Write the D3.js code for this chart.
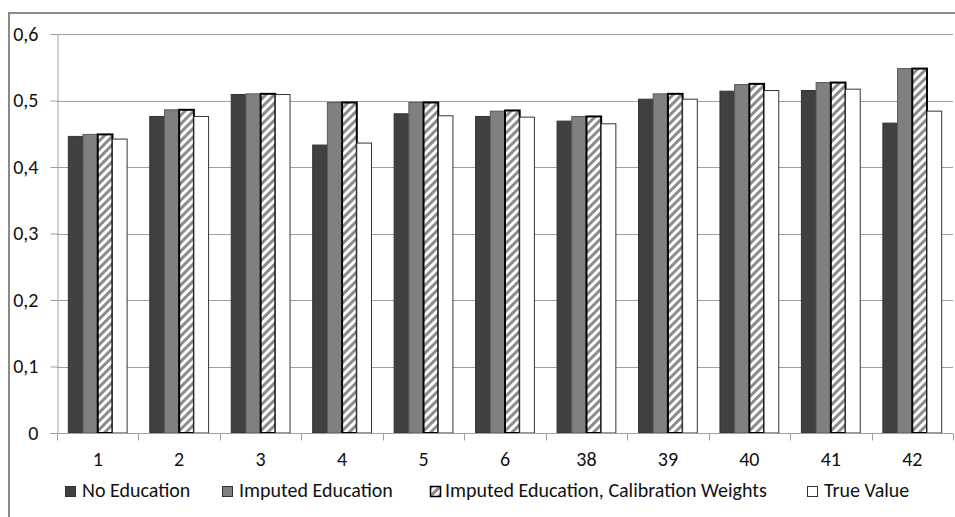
<!DOCTYPE html>
<html>
<head>
<meta charset="utf-8">
<script src="https://cdn.jsdelivr.net/npm/d3@7/dist/d3.min.js"></script>
<style>
  html, body { margin: 0; padding: 0; background: #fff; }
  svg { display: block; font-family: Carlito, Lato, "Open Sans", sans-serif; }
</style>
</head>
<body>
<svg id="chart" width="955" height="517"></svg>
<script>
// Group labels along the x axis
const categories = ["1", "2", "3", "4", "5", "6", "38", "39", "40", "41", "42"];

// Series values, one per group
const noEducation       = [0.446, 0.476, 0.509, 0.433, 0.480, 0.476, 0.469, 0.502, 0.514, 0.515, 0.466];
const imputedEducation  = [0.449, 0.486, 0.510, 0.497, 0.497, 0.484, 0.476, 0.510, 0.524, 0.527, 0.548];
const imputedCalibrated = [0.449, 0.486, 0.510, 0.497, 0.497, 0.485, 0.476, 0.510, 0.525, 0.527, 0.548];
const trueValue         = [0.442, 0.476, 0.509, 0.436, 0.477, 0.475, 0.465, 0.502, 0.515, 0.517, 0.484];

const seriesNames = ["No Education", "Imputed Education", "Imputed Education, Calibration Weights", "True Value"];
const seriesValues = [noEducation, imputedEducation, imputedCalibrated, trueValue];

// Y axis tick values
const yTicks = [0, 0.1, 0.2, 0.3, 0.4, 0.5, 0.6];

const svg = d3.select("#chart");
const fontSize = 20;
const textColor = "#111111";

// Series styling
const styles = [
  { fill: "#404040", stroke: "#333333", sw: 1 },
  { fill: "#808080", stroke: "#5a5a5a", sw: 1 },
  { fill: "url(#hatch)", stroke: "#000000", sw: 2 },
  { fill: "#ffffff", stroke: "#333333", sw: 1 }
];

// Diagonal hatch pattern for the calibrated series
const defs = svg.append("defs");
const pat = defs.append("pattern")
  .attr("id", "hatch")
  .attr("patternUnits", "userSpaceOnUse")
  .attr("width", 6).attr("height", 6)
  .attr("patternTransform", "rotate(45)");
pat.append("rect").attr("width", 6).attr("height", 6).attr("fill", "#ffffff");
pat.append("rect").attr("x", 0).attr("width", 3).attr("height", 6).attr("fill", "#8c8c8c");

// Outer chart frame
svg.append("rect")
  .attr("x", 9).attr("y", 13)
  .attr("width", 970).attr("height", 530)
  .attr("fill", "none")
  .attr("stroke", "#8a8a8a")
  .attr("stroke-width", 2);

const plot = { left: 57, right: 953, top: 34, bottom: 433 };

const x = d3.scaleBand()
  .domain(categories)
  .range([plot.left, plot.right])
  .paddingInner(0.278)
  .paddingOuter(0.139);

const xInner = d3.scaleBand()
  .domain(d3.range(seriesNames.length))
  .range([0, x.bandwidth()])
  .padding(0);

const y = d3.scaleLinear()
  .domain([0, 0.6])
  .range([plot.bottom, plot.top]);

const locale = d3.formatLocale({ decimal: ",", thousands: ".", grouping: [3], currency: ["", ""] });
const fmt = v => v === 0 ? "0" : locale.format(".1f")(v);

const gridColor = "#a0a0a0";

// Horizontal gridlines
svg.append("g")
  .selectAll("line")
  .data(yTicks.filter(t => t > 0))
  .join("line")
  .attr("x1", plot.left).attr("x2", plot.right)
  .attr("y1", d => Math.round(y(d)) + 0.5).attr("y2", d => Math.round(y(d)) + 0.5)
  .attr("stroke", gridColor)
  .attr("stroke-width", 1);

// Y axis
const yAxis = svg.append("g")
  .attr("transform", `translate(${plot.left + 0.5},0)`)
  .call(d3.axisLeft(y).tickValues(yTicks).tickFormat(fmt).tickSize(7).tickPadding(12));
yAxis.select(".domain").attr("stroke", gridColor);
yAxis.selectAll(".tick line").attr("stroke", gridColor);
yAxis.selectAll(".tick text")
  .attr("font-size", fontSize)
  .attr("fill", textColor)
  .attr("font-family", "Carlito, Lato, 'Open Sans', sans-serif");

// Bars
const groups = svg.append("g")
  .selectAll("g")
  .data(categories)
  .join("g")
  .attr("transform", d => `translate(${x(d)},0)`);

groups.selectAll("rect")
  .data((d, i) => seriesValues.map((vals, s) => ({ s, v: vals[i] })))
  .join("rect")
  .attr("x", d => xInner(d.s))
  .attr("width", xInner.bandwidth())
  .attr("y", d => y(d.v))
  .attr("height", d => y(0) - y(d.v))
  .attr("fill", d => styles[d.s].fill)
  .attr("stroke", d => styles[d.s].stroke)
  .attr("stroke-width", d => styles[d.s].sw);

// X axis with ticks between groups
const xAxisG = svg.append("g").attr("transform", `translate(0,${plot.bottom + 0.5})`);
xAxisG.append("line")
  .attr("x1", plot.left).attr("x2", plot.right)
  .attr("stroke", gridColor);
const step = x.step();
const boundaries = d3.range(categories.length + 1).map(i => plot.left + i * step);
xAxisG.selectAll("line.tk")
  .data(boundaries)
  .join("line")
  .attr("class", "tk")
  .attr("x1", d => Math.round(d) + 0.5).attr("x2", d => Math.round(d) + 0.5)
  .attr("y1", 0).attr("y2", 7)
  .attr("stroke", gridColor);
xAxisG.selectAll("text")
  .data(categories)
  .join("text")
  .attr("x", d => x(d) + x.bandwidth() / 2)
  .attr("y", 32)
  .attr("text-anchor", "middle")
  .attr("font-size", fontSize)
  .attr("fill", textColor)
  .text(d => d);

// Legend
const legendX = [65, 222, 430, 807];
const legend = svg.append("g").attr("transform", "translate(0,486)");
const items = legend.selectAll("g")
  .data(seriesNames)
  .join("g")
  .attr("transform", (d, i) => `translate(${legendX[i]},0)`);
items.append("rect")
  .attr("x", 0.5).attr("y", 0.5)
  .attr("width", 10).attr("height", 10)
  .attr("fill", (d, i) => styles[i].fill)
  .attr("stroke", (d, i) => i === 2 ? "#000" : "#333")
  .attr("stroke-width", (d, i) => i === 2 ? 1.5 : 1);
items.append("text")
  .attr("x", (d, i) => i === 2 ? 15 : 17)
  .attr("y", 11)
  .attr("font-size", fontSize)
  .attr("fill", textColor)
  .text(d => d);
</script>
</body>
</html>
